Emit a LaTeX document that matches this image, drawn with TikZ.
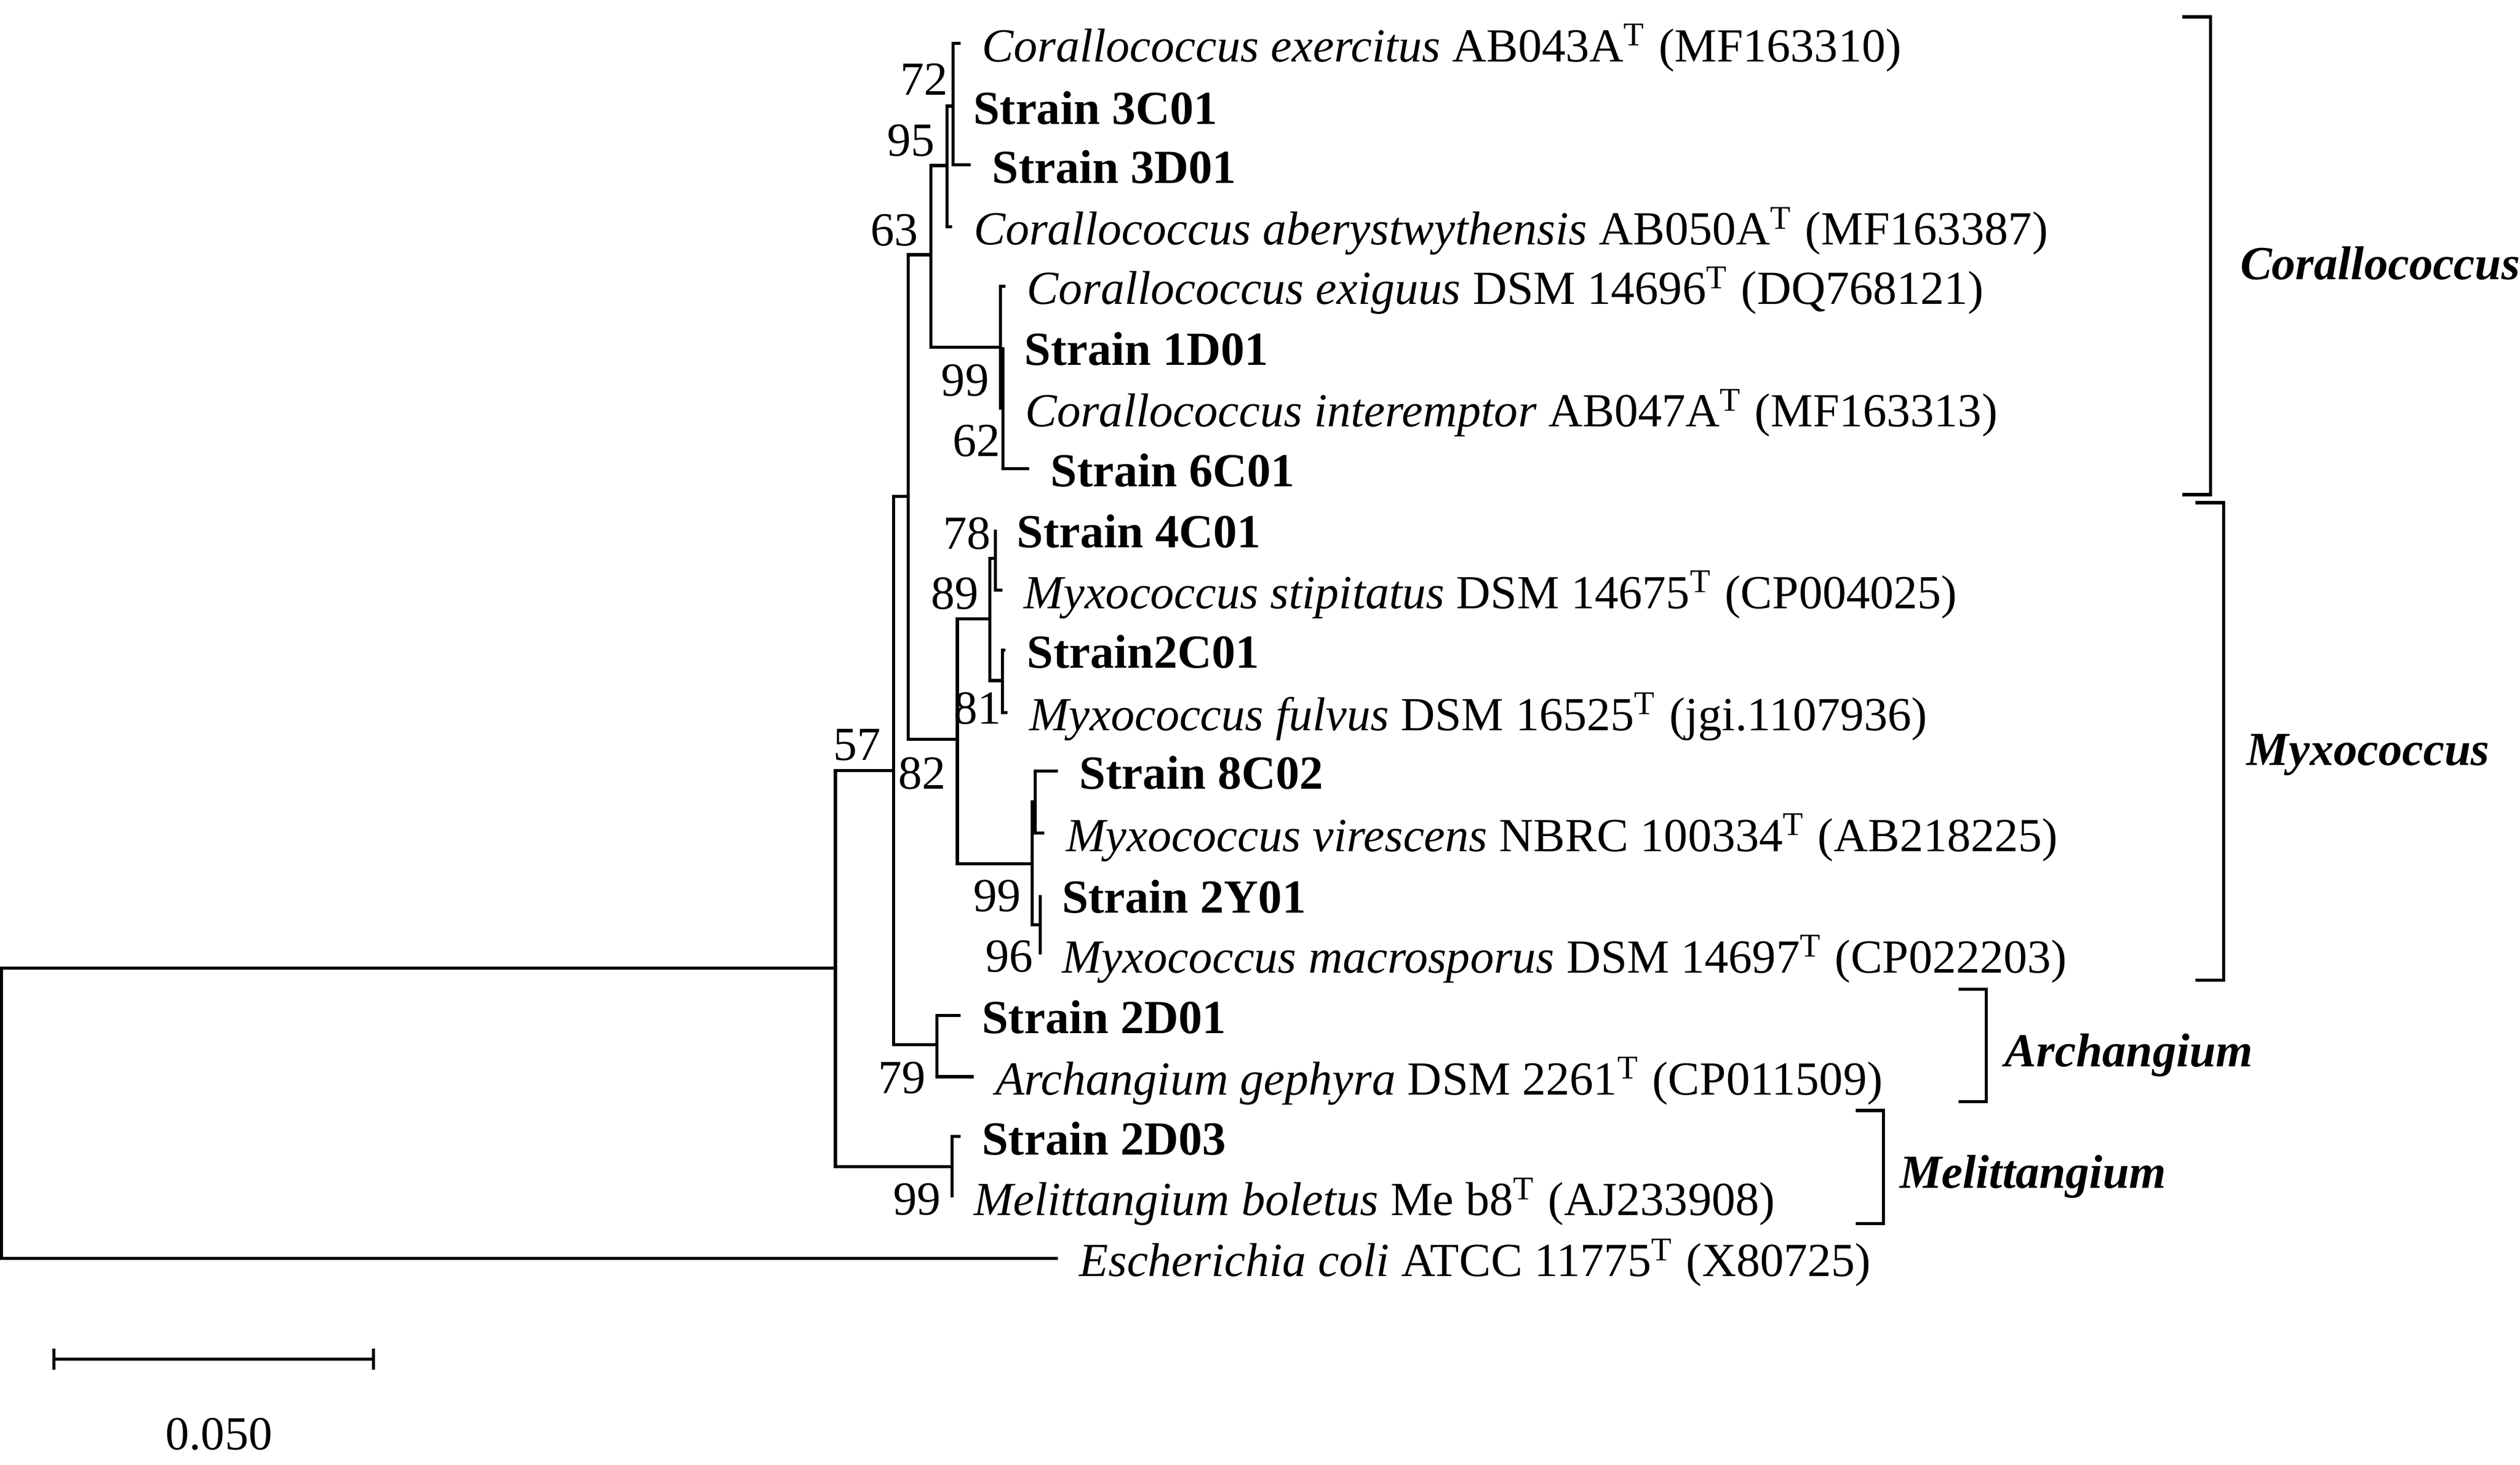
\documentclass[tikz,border=0pt]{standalone}
\usepackage{fontspec}
\setmainfont{Liberation Serif}
\begin{document}
\begin{tikzpicture}[x=0.01cm, y=-0.01cm, line width=0.55pt,
  font=\fontsize{8.4}{10}\selectfont,
  leaf/.style={anchor=base west, inner sep=0pt, xshift=0.125cm, yshift=-0.113cm},
  boot/.style={anchor=base east, inner sep=0pt},
  genus/.style={anchor=base west, inner sep=0pt, font=\fontsize{8.4}{10}\selectfont\bfseries\itshape}]
\useasboundingbox (0,0) rectangle (1568,911.4);
%
% internal nodes of the tree
\coordinate (root) at (1,692.7);
\coordinate (n57) at (519.8,602.4);
\coordinate (n82) at (556,479.4);
\coordinate (nCM) at (565,309);
\coordinate (n63) at (579.1,158.5);
\coordinate (n95) at (589.3,103);
\coordinate (n72) at (593.1,66);
\coordinate (n99a) at (622.5,216);
\coordinate (n62) at (624,254);
\coordinate (nMyx) at (595.7,460);
\coordinate (n89) at (616,385);
\coordinate (n78) at (619.3,347.5);
\coordinate (n81) at (623.7,423.5);
\coordinate (n99b) at (642.2,537.5);
\coordinate (n8C) at (644.1,499);
\coordinate (n96) at (647.3,575.5);
\coordinate (n79) at (582.9,650);
\coordinate (nMel) at (592.5,726);
%
% tips and their labels
\foreach \n/\x/\y/\t in {
  exe/597.6/27/{\textit{Corallococcus exercitus} AB043A\textsuperscript{T} (MF163310)},
  s3C/592.2/66/{\textbf{Strain 3C01}},
  s3D/604/102.6/{\textbf{Strain 3D01}},
  abe/592.5/141/{\textit{Corallococcus aberystwythensis} AB050A\textsuperscript{T} (MF163387)},
  exi/625.6/178/{\textit{Corallococcus exiguus} DSM 14696\textsuperscript{T} (DQ768121)},
  s1D/624/216/{\textbf{Strain 1D01}},
  int/624.5/254.3/{\textit{Corallococcus interemptor} AB047A\textsuperscript{T} (MF163313)},
  s6C/640.3/291.6/{\textbf{Strain 6C01}},
  s4C/619.3/329.5/{\textbf{Strain 4C01}},
  sti/623.7/367.3/{\textit{Myxococcus stipitatus} DSM 14675\textsuperscript{T} (CP004025)},
  s2C/625.6/404.5/{\textbf{Strain2C01}},
  ful/626.9/443.3/{\textit{Myxococcus fulvus} DSM 16525\textsuperscript{T} (jgi.1107936)},
  s8C/658.2/479.7/{\textbf{Strain 8C02}},
  vir/649.9/518.5/{\textit{Myxococcus virescens} NBRC 100334\textsuperscript{T} (AB218225)},
  s2Y/647.3/556.8/{\textbf{Strain 2Y01}},
  mac/647.3/594/{\textit{Myxococcus macrosporus} DSM 14697\textsuperscript{T} (CP022203)},
  sD1/597.6/631.8/{\textbf{Strain 2D01}},
  gep/605.9/670/{\textit{Archangium gephyra} DSM 2261\textsuperscript{T} (CP011509)},
  sD3/597.6/707.2/{\textbf{Strain 2D03}},
  mel/592.5/745/{\textit{Melittangium boletus} Me b8\textsuperscript{T} (AJ233908)},
  eco/658.2/783/{\textit{Escherichia coli} ATCC 11775\textsuperscript{T} (X80725)}}
{
  \coordinate (\n) at (\x,\y);
  \node[leaf] (t\n) at (\n) {\t};
}
%
% branches
\foreach \p/\c in {root/n57, root/eco, n57/n82, n57/nMel, n82/nCM, n82/n79,
  nCM/n63, nCM/nMyx, n63/n95, n63/n99a, n95/n72, n95/abe, n72/exe, n72/s3D,
  n99a/exi, n99a/n62, n62/s1D, n62/s6C, nMyx/n89, nMyx/n99b, n89/n78, n89/n81,
  n78/s4C, n78/sti, n81/s2C, n81/ful, n99b/n8C, n99b/n96, n8C/s8C, n8C/vir,
  n96/s2Y, n96/mac, n79/sD1, n79/gep, nMel/sD3, nMel/mel}
\draw (\p) |- (\c);
%
% bootstrap values
\foreach \n/\x/\y/\v in {b72/590.8/59.2/72, b95/582.5/97/95, b63/572.3/153/63,
  b99a/616.3/246.2/99, b62/623.4/283.9/62, b78/617.5/341.8/78, b89/609.9/379/89,
  b81/624/450.4/81, b57/549/473/57, b82/589.5/491/82, b99b/636.1/567/99,
  b96/643.7/604.7/96, b79/576.8/680.4/79, b99c/586.3/756/99}
\node[boot] (\n) at (\x,\y) {\v};
%
% genus brackets
\foreach \xa/\xb/\ya/\yb in {1358/1375.5/10.5/307.8, 1366/1383.5/312.8/610,
  1218.5/1235.8/615.5/685.6, 1154.7/1172/691/761.3}
\draw (\xa,\ya) -- (\xb,\ya) -- (\xb,\yb) -- (\xa,\yb);
\node[genus] (gCor) at (1393,174) {Corallococcus};
\node[genus] (gMyx) at (1397,476.1) {Myxococcus};
\node[genus] (gArc) at (1246.5,663.8) {Archangium};
\node[genus] (gMel) at (1181,739.4) {Melittangium};
%
% scale bar
\coordinate (sbL) at (33.6,845.8);
\coordinate (sbR) at (232.5,845.8);
\draw (sbL) -- (sbR);
\draw (sbL) ++(0,-6.5) -- ++(0,13);
\draw (sbR) ++(0,-6.5) -- ++(0,13);
\node[anchor=base, inner sep=0pt] (sbT) at (136.2,902) {0.050};
\end{tikzpicture}
\end{document}
